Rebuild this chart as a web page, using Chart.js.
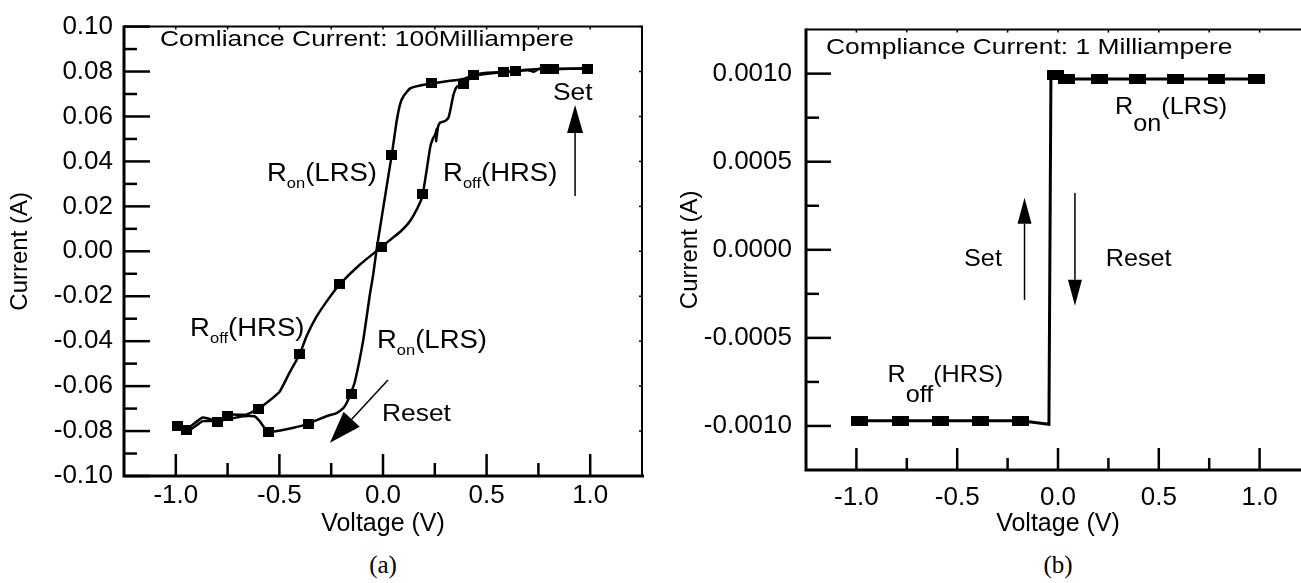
<!DOCTYPE html>
<html>
<head>
<meta charset="utf-8">
<script src="https://cdn.jsdelivr.net/npm/chart.js@4.4.1/dist/chart.umd.min.js"></script>
<style>
  html, body { margin: 0; padding: 0; background: #fff; overflow: hidden; width: 1301px; height: 583px; }
  .box { position: absolute; top: 0; height: 545px; }
  #boxA { left: 0; width: 660px; }
  #boxB { left: 660px; width: 660px; }
  .cap { position: absolute; top: 551px; font-family: "Liberation Serif", "DejaVu Serif", serif; font-size: 25px; transform: translateX(-50%); }
</style>
</head>
<body>
<div id="boxA" class="box"><canvas id="chartA"></canvas></div>
<div id="boxB" class="box"><canvas id="chartB"></canvas></div>
<div class="cap" style="left:383px">(a)</div>
<div class="cap" style="left:1058px">(b)</div>
<script>
// ---- data (Voltage V, Current A) ----
const voltTicks = [-1.0, -0.5, 0.0, 0.5, 1.0];
const voltMinorTicks = [-0.75, -0.25, 0.25, 0.75];
const currentTicksA = [-0.10, -0.08, -0.06, -0.04, -0.02, 0.00, 0.02, 0.04, 0.06, 0.08, 0.10];
const currentMinorTicksA = [-0.09, -0.07, -0.05, -0.03, -0.01, 0.01, 0.03, 0.05, 0.07, 0.09];
const currentTicksB = [-0.0010, -0.0005, 0.0000, 0.0005, 0.0010];
const currentMinorTicksB = [-0.00075, -0.00025, 0.00025, 0.00075];

// (a) 100 mA compliance: HRS set sweep 0 -> +1 V
const setBranchA = [
  [-0.006, 0.0020], [0.04, 0.0055], [0.082, 0.0086], [0.12, 0.0122], [0.147, 0.0159],
  [0.179, 0.0217], [0.192, 0.0254], [0.211, 0.0363], [0.228, 0.0464], [0.24, 0.050],
  [0.252, 0.052], [0.26, 0.0545], [0.256, 0.049], [0.266, 0.0555], [0.276, 0.0573],
  [0.30, 0.058], [0.316, 0.0595], [0.324, 0.0624], [0.34, 0.0696], [0.357, 0.0733],
  [0.389, 0.0745], [0.437, 0.0783], [0.502, 0.0795], [0.582, 0.0798], [0.639, 0.0803],
  [0.70, 0.0806], [0.728, 0.0799], [0.752, 0.0812], [0.784, 0.0813], [0.823, 0.0811],
  [0.986, 0.0813]
];
// LRS sweep +1 V -> -1 V
const resetBranchA = [
  [0.986, 0.0813], [0.823, 0.0811], [0.784, 0.0813], [0.639, 0.0803], [0.582, 0.0798],
  [0.437, 0.0783], [0.389, 0.0767], [0.30, 0.0756], [0.236, 0.0747], [0.179, 0.0738],
  [0.131, 0.0725], [0.098, 0.0689], [0.082, 0.0653], [0.066, 0.058], [0.05, 0.0478],
  [0.042, 0.0428], [-0.03, 0.0014], [-0.047, -0.0102], [-0.063, -0.019], [-0.095, -0.0393],
  [-0.136, -0.0582], [-0.156, -0.0633], [-0.176, -0.0676], [-0.192, -0.0698], [-0.224, -0.072],
  [-0.273, -0.0734], [-0.362, -0.0768], [-0.466, -0.0792], [-0.555, -0.0803], [-0.595, -0.0756],
  [-0.62, -0.0734], [-0.676, -0.0734], [-0.757, -0.0749], [-0.805, -0.0756], [-0.87, -0.0756],
  [-0.942, -0.080], [-0.99, -0.0778]
];
// HRS sweep -1 V -> 0
const returnBranchA = [
  [-0.99, -0.0778], [-0.95, -0.0792], [-0.87, -0.074], [-0.797, -0.0756], [-0.749, -0.0727],
  [-0.709, -0.0727], [-0.66, -0.0727], [-0.604, -0.0701], [-0.564, -0.0676], [-0.499, -0.0625],
  [-0.45, -0.0538], [-0.402, -0.0458], [-0.369, -0.0378], [-0.321, -0.0291], [-0.257, -0.0204],
  [-0.208, -0.0146], [-0.111, -0.0059], [-0.006, 0.0020]
];
const markersA = [
  [-0.991, -0.0778], [-0.95, -0.0797], [-0.80, -0.0760], [-0.75, -0.0733], [-0.602, -0.0701],
  [-0.555, -0.0803], [-0.402, -0.0458], [-0.36, -0.0768], [-0.208, -0.0146], [-0.154, -0.0633],
  [-0.006, 0.0020], [0.042, 0.0428], [0.192, 0.0254], [0.236, 0.0747], [0.389, 0.0745],
  [0.437, 0.0783], [0.582, 0.0798], [0.639, 0.0803], [0.784, 0.0813], [0.823, 0.0812],
  [0.986, 0.0813]
];

// (b) 1 mA compliance
const sweepB = [
  [-0.983, -0.00097], [-0.783, -0.00097], [-0.583, -0.00097], [-0.384, -0.00097], [-0.184, -0.00097],
  [-0.045, -0.00099], [-0.035, 0.00100], [-0.01, 0.00099], [0.044, 0.00097], [0.205, 0.00097],
  [0.395, 0.00097], [0.585, 0.00097], [0.784, 0.00097], [0.984, 0.00097]
];
const markersB = [
  [-0.983, -0.00097], [-0.783, -0.00097], [-0.583, -0.00097], [-0.384, -0.00097], [-0.184, -0.00097],
  [-0.01, 0.00099], [0.044, 0.00097], [0.205, 0.00097], [0.395, 0.00097], [0.585, 0.00097],
  [0.784, 0.00097], [0.984, 0.00097]
];

const FONT = '"Liberation Sans", Arial, Helvetica, sans-serif';

const notesA = [
  { at: [-1.076, 0.0913], sx: 1.2, parts: [{ t: 'Comliance Current: 100Milliampere', size: 22 }] },
  { at: [-0.560, 0.0312], sx: 1.1, parts: [{ t: 'R', size: 25 }, { t: 'on', size: 15, dy: 7 }, { t: '(LRS)', size: 25 }] },
  { at: [0.290, 0.0312], sx: 1.1, parts: [{ t: 'R', size: 25 }, { t: 'off', size: 15, dy: 7 }, { t: '(HRS)', size: 25 }] },
  { at: [-0.931, -0.0377], sx: 1.1, parts: [{ t: 'R', size: 25 }, { t: 'off', size: 15, dy: 7 }, { t: '(HRS)', size: 25 }] },
  { at: [-0.029, -0.0429], sx: 1.1, parts: [{ t: 'R', size: 25 }, { t: 'on', size: 15, dy: 7 }, { t: '(LRS)', size: 25 }] },
  { at: [0.820, 0.0673], sx: 1.1, parts: [{ t: 'Set', size: 24 }] },
  { at: [-0.005, -0.0756], sx: 1.1, parts: [{ t: 'Reset', size: 24 }] },
  { arrow: true, from: [0.927, 0.0246], to: [0.927, 0.0651], width: 1.5, head: 28, half: 8 },
  { arrow: true, from: [0.024, -0.0573], to: [-0.256, -0.0852], width: 1.5, head: 32, half: 11 }
];
const notesB = [
  { at: [-1.151, 0.001114], sx: 1.2, parts: [{ t: 'Compliance Current: 1 Milliampere', size: 22 }] },
  { at: [0.283, 0.00077], sx: 1.05, parts: [{ t: 'R', size: 24 }, { t: 'on', size: 24, dy: 17 }, { t: '(LRS)', size: 24 }] },
  { at: [-0.846, -0.000748], sx: 1.05, parts: [{ t: 'R', size: 24 }, { t: 'off', size: 24, dy: 20 }, { t: '(HRS)', size: 24 }] },
  { at: [-0.466, -0.0000928], sx: 1.05, parts: [{ t: 'Set', size: 24 }] },
  { at: [0.237, -0.0000928], sx: 1.05, parts: [{ t: 'Reset', size: 24 }] },
  { arrow: true, from: [-0.166, -0.000284], to: [-0.166, 0.000295], width: 1.5, head: 26, half: 7 },
  { arrow: true, from: [0.084, 0.000322], to: [0.084, -0.000317], width: 1.5, head: 26, half: 7 }
];

function blockMarker(w, h) {
  const c = document.createElement('canvas');
  c.width = w; c.height = h;
  const g = c.getContext('2d');
  g.fillStyle = '#000';
  g.fillRect(0, 0, w, h);
  return c;
}

const toXY = pts => pts.map(p => ({ x: p[0], y: p[1] }));

function lineSet(pts, width, tension) {
  return { data: toXY(pts), showLine: true, borderColor: '#000', borderWidth: width, pointRadius: 0, tension: tension, fill: false };
}

// frame and inward ticks
function framePlugin(cfg) {
  return {
    id: 'frame',
    afterDraw(chart) {
      const { ctx, chartArea: a, scales: { x, y } } = chart;
      const tick = (x1, y1, x2, y2) => { ctx.beginPath(); ctx.moveTo(x1, y1); ctx.lineTo(x2, y2); ctx.stroke(); };
      ctx.save();
      ctx.strokeStyle = '#000';
      ctx.lineWidth = cfg.thin;
      tick(a.left, a.top, a.right + 1, a.top);
      if (cfg.rightEdge) tick(a.right, a.top, a.right, a.bottom);
      ctx.lineWidth = cfg.thick;
      ctx.beginPath();
      ctx.moveTo(a.left, a.top - 1);
      ctx.lineTo(a.left, a.bottom);
      ctx.lineTo(a.right + 2, a.bottom);
      ctx.stroke();

      ctx.lineWidth = 2.5;
      voltTicks.forEach(v => { const p = x.getPixelForValue(v); tick(p, a.bottom, p, a.bottom - cfg.xMajor); });
      voltMinorTicks.forEach(v => { const p = x.getPixelForValue(v); tick(p, a.bottom, p, a.bottom - cfg.xMinor); });
      cfg.yTicks.forEach(v => { const p = y.getPixelForValue(v); tick(a.left, p, a.left + cfg.yMajor, p); });
      cfg.yMinorTicks.forEach(v => { const p = y.getPixelForValue(v); tick(a.left, p, a.left + cfg.yMinor, p); });

      // tiny ticks on the top and right edges
      ctx.lineWidth = 1.5;
      voltTicks.concat(voltMinorTicks).forEach(v => { const p = x.getPixelForValue(v); tick(p, a.top, p, a.top + 3); });
      if (cfg.rightEdge) cfg.yTicks.forEach(v => { const p = y.getPixelForValue(v); tick(a.right, p, a.right - 3, p); });
      ctx.restore();
    }
  };
}

function notesPlugin(notes) {
  return {
    id: 'notes',
    afterDraw(chart) {
      const { ctx, scales: { x, y } } = chart;
      ctx.save();
      ctx.fillStyle = '#000';
      ctx.strokeStyle = '#000';
      notes.forEach(n => {
        if (n.arrow) {
          const x1 = x.getPixelForValue(n.from[0]), y1 = y.getPixelForValue(n.from[1]);
          const x2 = x.getPixelForValue(n.to[0]), y2 = y.getPixelForValue(n.to[1]);
          const ang = Math.atan2(y2 - y1, x2 - x1);
          const bx = x2 - n.head * Math.cos(ang), by = y2 - n.head * Math.sin(ang);
          ctx.lineWidth = n.width;
          ctx.beginPath(); ctx.moveTo(x1, y1); ctx.lineTo(bx, by); ctx.stroke();
          const nx = -Math.sin(ang) * n.half, ny = Math.cos(ang) * n.half;
          ctx.beginPath(); ctx.moveTo(x2, y2); ctx.lineTo(bx + nx, by + ny); ctx.lineTo(bx - nx, by - ny); ctx.closePath(); ctx.fill();
        } else {
          let px = x.getPixelForValue(n.at[0]);
          const py = y.getPixelForValue(n.at[1]);
          ctx.textBaseline = 'alphabetic';
          ctx.textAlign = 'left';
          n.parts.forEach(p => {
            ctx.font = p.size + 'px ' + FONT;
            ctx.save();
            ctx.translate(px, py + (p.dy || 0));
            ctx.scale(n.sx, 1);
            ctx.fillText(p.t, 0, 0);
            ctx.restore();
            px += ctx.measureText(p.t).width * n.sx;
          });
        }
      });
      ctx.restore();
    }
  };
}

function makeChart(id, o) {
  return new Chart(document.getElementById(id), {
    type: 'scatter',
    data: { datasets: o.datasets },
    options: {
      responsive: true,
      maintainAspectRatio: false,
      animation: false,
      devicePixelRatio: 1,
      layout: { padding: o.padding },
      plugins: { legend: { display: false }, tooltip: { enabled: false } },
      scales: {
        x: {
          type: 'linear', min: -1.25, max: 1.25,
          grid: { display: false, drawTicks: false }, border: { display: false },
          afterBuildTicks: s => { s.ticks = voltTicks.map(v => ({ value: v })); },
          afterFit: s => { s.height = o.xHeight; },
          ticks: { padding: o.xPad, color: '#000', autoSkip: false, maxRotation: 0, font: { family: FONT, size: 26 }, callback: v => v.toFixed(1) },
          title: { display: true, text: 'Voltage (V)', color: '#000', font: { family: FONT, size: 25 }, padding: { top: 0, bottom: 6 } }
        },
        y: {
          type: 'linear', min: o.yMin, max: o.yMax,
          grid: { display: false, drawTicks: false }, border: { display: false },
          afterBuildTicks: s => { s.ticks = o.yTicks.map(v => ({ value: v })); },
          afterFit: s => { s.width = o.yWidth; },
          ticks: { padding: o.yPad, color: '#000', autoSkip: false, font: { family: FONT, size: 26 }, callback: v => v.toFixed(o.yDigits) },
          title: { display: true, text: 'Current (A)', color: '#000', font: { family: FONT, size: 24 }, padding: { top: o.yTitlePad, bottom: 0 } }
        }
      }
    },
    plugins: [o.frame, o.notes]
  });
}

makeChart('chartA', {
  datasets: [
    lineSet(setBranchA, 2.5, 0.15),
    lineSet(resetBranchA, 2.5, 0.15),
    lineSet(returnBranchA, 2.5, 0.15),
    { data: toXY(markersA), showLine: false, pointStyle: blockMarker(11, 10), pointRadius: 5 }
  ],
  padding: { top: 17, right: 18, left: 0, bottom: 0 },
  xHeight: 69, xPad: 4, yWidth: 124, yPad: 11, yTitlePad: 6,
  yMin: -0.10, yMax: 0.10, yTicks: currentTicksA, yDigits: 2,
  frame: framePlugin({ thick: 3, thin: 2, rightEdge: true, xMajor: 22, xMinor: 13, yMajor: 26, yMinor: 13, yTicks: currentTicksA, yMinorTicks: currentMinorTicksA }),
  notes: notesPlugin(notesA)
});

makeChart('chartB', {
  datasets: [
    lineSet(sweepB, 3, 0),
    { data: toXY(markersB), showLine: false, pointStyle: blockMarker(17, 10), pointRadius: 5 }
  ],
  padding: { top: 12, right: 10, left: 0, bottom: 0 },
  xHeight: 75, xPad: 12, yWidth: 146, yPad: 14, yTitlePad: 16,
  yMin: -0.00125, yMax: 0.00125, yTicks: currentTicksB, yDigits: 4,
  frame: framePlugin({ thick: 3, thin: 2, rightEdge: false, xMajor: 22, xMinor: 12, yMajor: 25, yMinor: 13, yTicks: currentTicksB, yMinorTicks: currentMinorTicksB }),
  notes: notesPlugin(notesB)
});
</script>
</body>
</html>
